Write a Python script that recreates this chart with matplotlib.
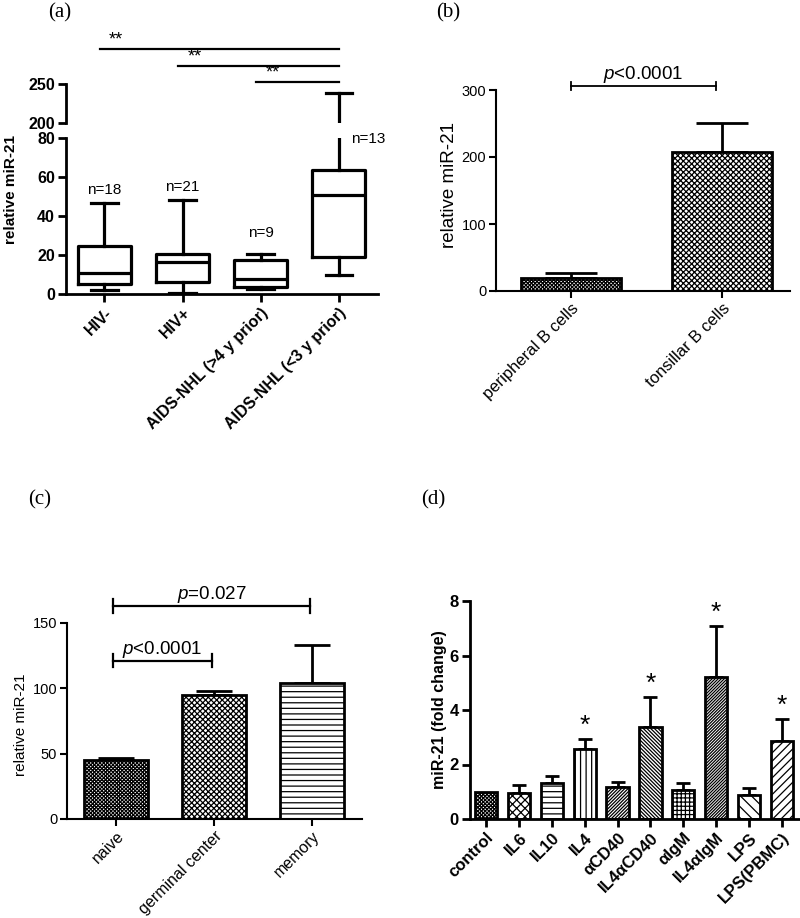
import numpy as np
import matplotlib
matplotlib.use("Agg")
import matplotlib.pyplot as plt

plt.rcParams['font.family'] = ['Liberation Sans', 'DejaVu Sans']
plt.rcParams['mathtext.fontset'] = 'custom'
plt.rcParams['mathtext.it'] = 'Liberation Sans:italic'
plt.rcParams['mathtext.rm'] = 'Liberation Sans'
plt.rcParams['hatch.linewidth'] = 0.9

# ---------------- data ----------------
a_groups = ["HIV-", "HIV+", "AIDS-NHL (>4 y prior)", "AIDS-NHL (<3 y prior)"]
a_whislo = [2.0, 0.7, 2.7, 9.7]
a_q1 = [5.1, 6.3, 3.7, 19.1]
a_med = [10.6, 16.2, 7.5, 50.8]
a_q3 = [24.6, 20.3, 17.4, 63.6]
a_whishi = [46.8, 48.2, 20.5, 238.0]
a_n = ["n=18", "n=21", "n=9", "n=13"]
a_sig_from = [0, 1, 2]
a_sig_to = [3, 3, 3]
a_sig_text = ["**", "**", "**"]

b_cats = ["peripheral B cells", "tonsillar B cells"]
b_vals = [20, 208]
b_err = [7, 43]
b_p = "$p$<0.0001"

c_cats = ["naive", "germinal center", "memory"]
c_vals = [45.5, 95.0, 104.0]
c_err = [1.5, 3.0, 29.0]
c_p_pairs = [(0, 1), (0, 2)]
c_p_text = ["$p$<0.0001", "$p$=0.027"]

d_cats = ["control", "IL6", "IL10", "IL4", "αCD40", "IL4αCD40", "αIgM",
          "IL4αIgM", "LPS", "LPS(PBMC)"]
d_vals = [1.0, 0.94, 1.31, 2.57, 1.19, 3.37, 1.07, 5.2, 0.88, 2.87]
d_err = [0.0, 0.30, 0.27, 0.35, 0.18, 1.10, 0.24, 1.89, 0.25, 0.79]
d_star = [False, False, False, True, False, True, False, True, False, True]

W, H = 800, 918
fig = plt.figure(figsize=(W / 100, H / 100), dpi=100)


def ax_px(left, top, right, bottom):
    return fig.add_axes([left / W, 1 - bottom / H, (right - left) / W, (bottom - top) / H])


def style(ax, lw=2.0, bold=False, fs=10, tl=5):
    for s in ['top', 'right']:
        ax.spines[s].set_visible(False)
    for s in ['left', 'bottom']:
        ax.spines[s].set_linewidth(lw)
    ax.tick_params(direction='out', length=tl, width=lw, labelsize=fs, pad=2)
    if bold:
        for lab in ax.get_yticklabels() + ax.get_xticklabels():
            lab.set_fontweight('bold')


FINE = 'x' * 9       # fine grey checker
CHECK = 'x' * 6      # checkerboard dots

# ---------------- panel (a) ----------------
fig.text(60 / W, 1 - 13 / H, "(a)", family='Liberation Serif', fontsize=15, ha='center', va='center')
axl = ax_px(66, 138, 378, 294)
axu = ax_px(66, 84, 378, 123)
stats = [dict(whislo=a_whislo[i], q1=a_q1[i], med=a_med[i], q3=a_q3[i], whishi=a_whishi[i],
              fliers=[], label=a_groups[i]) for i in range(4)]
pos = np.arange(4)
for ax in (axl, axu):
    ax.bxp(stats, positions=pos, widths=0.68, showfliers=False,
           boxprops=dict(linewidth=2.3, color='black'),
           medianprops=dict(linewidth=2.3, color='black'),
           whiskerprops=dict(linewidth=2.3, color='black'),
           capprops=dict(linewidth=2.3, color='black'))
    ax.set_xlim(-0.49, 3.5)
axl.set_ylim(0, 80)
axl.set_yticks([0, 20, 40, 60, 80])
axu.set_ylim(200, 250)
axu.set_yticks([200, 250])
axl.set_xticks(pos)
axl.set_xticklabels(a_groups, rotation=45, ha='right', rotation_mode='anchor')
style(axl, lw=2.0, bold=True, fs=11.5, tl=6)
style(axu, lw=2.0, bold=True, fs=11.5, tl=6)
axu.spines['bottom'].set_visible(False)
axu.tick_params(axis='x', bottom=False, labelbottom=False)
axl.set_ylabel("relative miR-21", fontsize=11, fontweight='bold')
axl.yaxis.set_label_coords((18 - 66) / 312, 0.67)
n_y = [a_whishi[0] + 3, a_whishi[1] + 3, a_whishi[2] + 7, 76]
n_x = [0, 1, 2, 3.38]
for i in range(4):
    axl.text(n_x[i], n_y[i], a_n[i], ha='center', va='bottom', fontsize=11)
sig_y = [295, 273, 252.6]
for k in range(3):
    y = sig_y[k]
    axu.plot([a_sig_from[k] - 0.06, a_sig_to[k]], [y, y], color='black', lw=1.6, clip_on=False)
    axu.text(a_sig_from[k] + 0.06, y + 0.5, a_sig_text[k], ha='left', va='bottom', fontsize=13)

# ---------------- panel (b) ----------------
fig.text(448 / W, 1 - 13 / H, "(b)", family='Liberation Serif', fontsize=15, ha='center', va='center')
axb = ax_px(496, 90, 790, 291)
xb = np.arange(2)
hb = [FINE, CHECK]
for i in range(2):
    axb.bar(xb[i], b_vals[i], width=0.66, facecolor='white', edgecolor='black',
            linewidth=2.0, hatch=hb[i], zorder=2)
axb.errorbar(xb, b_vals, yerr=[np.zeros(2), b_err], fmt='none', ecolor='black',
             elinewidth=2.0, capsize=19, capthick=2.0, zorder=1)
axb.set_xlim(-0.497, 1.45)
axb.set_ylim(0, 300)
axb.set_yticks([0, 100, 200, 300])
axb.set_xticks(xb)
axb.set_xticklabels(b_cats, rotation=45, ha='right', rotation_mode='anchor')
style(axb, lw=1.5, fs=10.5, tl=5)
axb.tick_params(axis='x', labelsize=12)
axb.set_ylabel("relative miR-21", fontsize=13.5)
axb.yaxis.set_label_coords((458 - 496) / 294, 0.525)
yb = 306
axb.plot([0, 0.96], [yb, yb], color='black', lw=1.3, clip_on=False)
for xx in (0, 0.96):
    axb.plot([xx, xx], [yb - 6, yb + 6], color='black', lw=1.3, clip_on=False)
axb.text(0.48, yb + 1, b_p, ha='center', va='bottom', fontsize=13.5)

# ---------------- panel (c) ----------------
fig.text(40 / W, 1 - 500 / H, "(c)", family='Liberation Serif', fontsize=15, ha='center', va='center')
axc = ax_px(67, 623, 362, 819)
xc = np.arange(3)
hc = [FINE, CHECK, '---']
for i in range(3):
    axc.bar(xc[i], c_vals[i], width=0.66, facecolor='white', edgecolor='black',
            linewidth=2.0, hatch=hc[i], zorder=2)
axc.errorbar(xc, c_vals, yerr=[np.zeros(3), c_err], fmt='none', ecolor='black',
             elinewidth=2.0, capsize=13, capthick=2.0, zorder=1)
axc.set_xlim(-0.5, 2.51)
axc.set_ylim(0, 150)
axc.set_yticks([0, 50, 100, 150])
axc.set_xticks(xc)
axc.set_xticklabels(c_cats, rotation=45, ha='right', rotation_mode='anchor')
style(axc, lw=1.5, fs=10.5, tl=5)
axc.tick_params(axis='x', labelsize=11.5)
axc.set_ylabel("relative miR-21", fontsize=11)
axc.yaxis.set_label_coords((28 - 67) / 295, 0.48)
c_y = [121, 163]
for k in range(2):
    a0, a1 = c_p_pairs[k]
    y = c_y[k]
    x0, x1 = a0 - 0.03, a1 - 0.02
    axc.plot([x0, x1], [y, y], color='black', lw=1.6, clip_on=False)
    for xx in (x0, x1):
        axc.plot([xx, xx], [y - 5, y + 5], color='black', lw=1.6, clip_on=False)
    axc.text((x0 + x1) / 2, y + 1.0, c_p_text[k], ha='center', va='bottom', fontsize=13.5)

# ---------------- panel (d) ----------------
fig.text(433 / W, 1 - 500 / H, "(d)", family='Liberation Serif', fontsize=15, ha='center', va='center')
axd = ax_px(470, 601, 800, 819)
xd = np.arange(10)
hd = ['x' * 9, 'xxxx', '---', '|||', '/' * 10, '\\' * 9, '++++',
      '/' * 11, '\\' * 3, '/' * 4]
for i in range(10):
    axd.bar(xd[i], d_vals[i], width=0.68, facecolor='white', edgecolor='black',
            linewidth=2.0, hatch=hd[i], zorder=2)
m = np.array(d_err) > 0
axd.errorbar(xd[m], np.array(d_vals)[m], yerr=[np.zeros(m.sum()), np.array(d_err)[m]],
             fmt='none', ecolor='black', elinewidth=2.0, capsize=5, capthick=2.0, zorder=1)
for i in range(10):
    if d_star[i]:
        axd.text(xd[i], d_vals[i] + d_err[i] + 0.05, "*", ha='center', va='bottom', fontsize=19)
axd.set_xlim(-0.49, 9.55)
axd.set_ylim(0, 8)
axd.set_yticks([0, 2, 4, 6, 8])
axd.set_xticks(xd)
axd.set_xticklabels(d_cats, rotation=45, ha='right', rotation_mode='anchor')
style(axd, lw=2.0, bold=True, fs=12, tl=6)
axd.set_ylabel("miR-21 (fold change)", fontsize=11.5, fontweight='bold')
axd.yaxis.set_label_coords((447 - 470) / 330, 0.5)

fig.savefig("out.png", dpi=100)
